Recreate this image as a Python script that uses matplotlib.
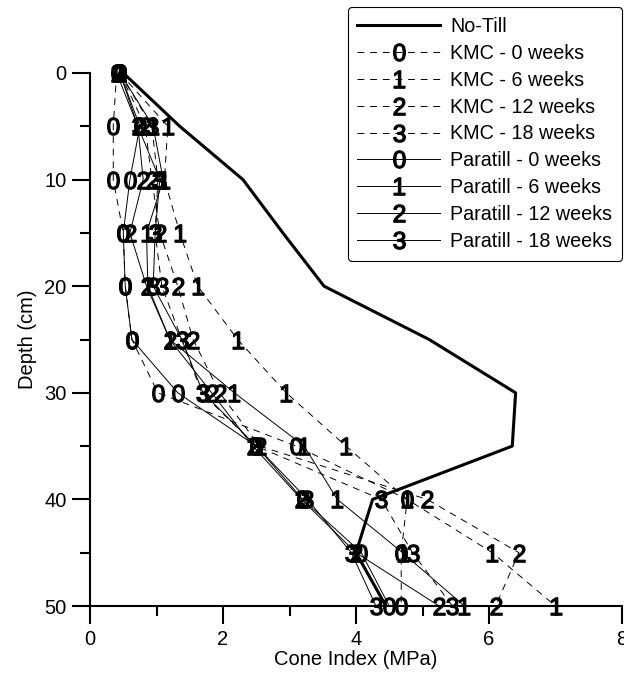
import matplotlib
matplotlib.use("Agg")
import matplotlib.pyplot as plt

# depth of each reading (cm)
depth = [0, 5, 10, 15, 20, 25, 30, 35, 40, 45, 50]

# cone index (MPa)
no_till = [0.5, 1.35, 2.3, 2.9, 3.52, 5.1, 6.4, 6.35, 4.25, 4.0, 4.45]

kmc_0 = [0.4, 0.35, 0.35, 0.5, 0.53, 0.63, 1.02, 3.1, 4.77, 4.68, 4.68]
kmc_6 = [0.45, 1.17, 1.12, 1.35, 1.62, 2.22, 2.95, 3.85, 4.77, 6.05, 7.0]
kmc_12 = [0.45, 0.83, 0.93, 1.05, 1.32, 1.55, 1.95, 2.55, 5.07, 6.45, 6.1]
kmc_18 = [0.45, 0.93, 1.02, 0.98, 1.08, 1.38, 1.68, 2.5, 4.38, 4.85, 5.45]

para_0 = [0.45, 0.75, 0.6, 0.5, 0.53, 0.63, 1.32, 2.5, 3.2, 4.08, 4.5]
para_6 = [0.45, 0.95, 1.1, 0.85, 0.87, 1.2, 2.17, 3.22, 3.72, 4.7, 5.63]
para_12 = [0.4, 0.72, 0.8, 0.6, 0.85, 1.2, 1.83, 2.45, 3.18, 4.0, 5.25]
para_18 = [0.45, 0.72, 1.05, 0.98, 0.95, 1.38, 1.7, 2.5, 3.27, 3.93, 4.3]

kmc_labels = ["KMC - 0 weeks", "KMC - 6 weeks", "KMC - 12 weeks", "KMC - 18 weeks"]
para_labels = ["Paratill - 0 weeks", "Paratill - 6 weeks",
               "Paratill - 12 weeks", "Paratill - 18 weeks"]
marks = ["0", "1", "2", "3"]

plt.rcParams["font.family"] = ["Liberation Sans", "DejaVu Sans"]
plt.rcParams["mathtext.fontset"] = "custom"
plt.rcParams["mathtext.rm"] = "Liberation Sans"
plt.rcParams["mathtext.it"] = "Liberation Sans:italic"
plt.rcParams["mathtext.bf"] = "Liberation Sans:bold"

fig = plt.figure(figsize=(6.24, 6.81), dpi=100)
ax = fig.add_axes([90 / 624, 1 - 606 / 681, 532 / 624, 533 / 681])

# no-till, thick line no markers
ax.plot(no_till, depth, color="k", lw=2.2, label="No-Till", zorder=3, clip_on=False)

# kmc series, dashed with digit markers
for vals, lab, m in zip([kmc_0, kmc_6, kmc_12, kmc_18], kmc_labels, marks):
    ax.plot(vals, depth, color="k", lw=0.7, ls=(0, (7, 6)), marker="$%s$" % m,
            ms=12.5, mew=0.9, label=lab, zorder=4, clip_on=False)

# paratill series, solid with digit markers
for vals, lab, m in zip([para_0, para_6, para_12, para_18], para_labels, marks):
    ax.plot(vals, depth, color="k", lw=0.7, ls="-", marker="$%s$" % m,
            ms=12.5, mew=0.9, label=lab, zorder=4, clip_on=False)

ax.set_xlim(0, 8)
ax.set_ylim(50, 0)
ax.set_xticks([0, 2, 4, 6, 8])
ax.set_xticks([1, 3, 5, 7], minor=True)
ax.set_yticks([0, 10, 20, 30, 40, 50])
ax.set_yticks([5, 15, 25, 35, 45], minor=True)

for side in ["top", "right"]:
    ax.spines[side].set_visible(False)
for side in ["left", "bottom"]:
    ax.spines[side].set_linewidth(1.5)

ax.tick_params(which="major", direction="out", length=13, width=1.5, labelsize=14.5, pad=4)
ax.tick_params(which="minor", direction="out", length=7, width=1.5)

ax.set_xlabel("Cone Index (MPa)", fontsize=14.5, labelpad=1)
ax.set_ylabel("Depth (cm)", fontsize=14.5, labelpad=5)

leg = fig.legend(loc="upper right", bbox_to_anchor=(622 / 624, 1 - 7 / 681),
                 borderaxespad=0, fontsize=14.2, handlelength=4.2, numpoints=1,
                 labelspacing=0.4, handletextpad=0.5, borderpad=0.5,
                 fancybox=True, framealpha=1, edgecolor="k")
leg.get_frame().set_linewidth(0.8)

fig.savefig("out.png", dpi=100)
